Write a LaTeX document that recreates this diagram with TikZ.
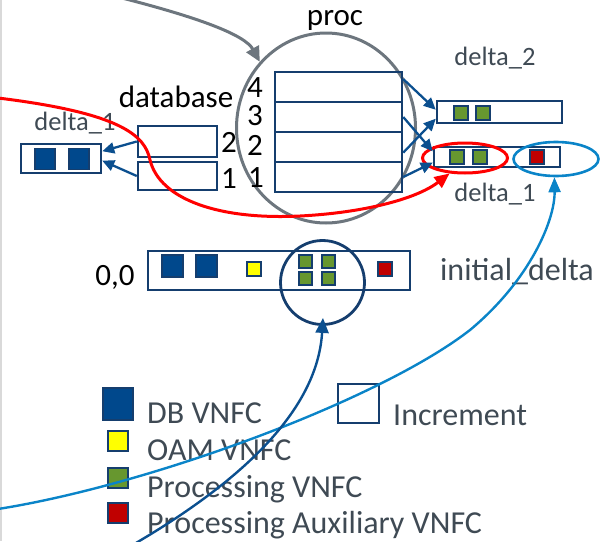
\documentclass[tikz,border=0pt]{standalone}
\usepackage{fontspec}
\setmainfont{Carlito}
\usetikzlibrary{arrows.meta,shapes.geometric}
\definecolor{navy}{HTML}{153E6E}
\definecolor{dbblue}{HTML}{00488C}
\definecolor{procgreen}{HTML}{67972F}
\definecolor{auxred}{HTML}{C00000}
\definecolor{oamyellow}{HTML}{FFFF00}
\definecolor{linkblue}{HTML}{0B4F8F}
\definecolor{skyblue}{HTML}{0A84C8}
\definecolor{ringgray}{HTML}{6D767E}
\definecolor{textgray}{HTML}{3F4A54}
\definecolor{edgegray}{HTML}{D9D9D9}
\newcommand\bigtxt{\fontsize{31}{37}\selectfont}
\newcommand\keytxt{\fontsize{32}{38}\selectfont}
\newcommand\midtxt{\fontsize{26.5}{32}\selectfont}
\begin{document}
\begin{tikzpicture}[x=1pt,y=-1pt,
  box/.style={draw=navy,line width=2.5pt,inner sep=0pt},
  unit/.style={draw=navy,line width=1.4pt,inner sep=0pt},
  dbsq/.style={unit,fill=dbblue,minimum width=21pt,minimum height=22pt},
  pgsq/.style={unit,fill=procgreen,minimum width=14pt,minimum height=14pt},
  oasq/.style={unit,fill=oamyellow,minimum width=14pt,minimum height=14pt},
  axsq/.style={unit,fill=auxred,minimum width=14pt,minimum height=14pt},
  lbl/.style={inner sep=0pt,anchor=base,font=\bigtxt},
  dlbl/.style={inner sep=0pt,anchor=base,font=\midtxt,text=textgray},
  legend/.style={inner sep=0pt,anchor=base west,font=\keytxt,text=textgray},
  link/.style={draw=linkblue,line width=2.3pt,-{Triangle[length=12pt,width=11pt]}},
]
\useasboundingbox (0,0) rectangle (602,541);
\draw[edgegray,line width=2pt] (1,0) -- (1,541);

% processing ring and its four slots
\node[draw=ringgray,line width=3pt,ellipse,inner sep=0pt,
      minimum width=179pt,minimum height=190pt] (ring) at (326,128) {};
\foreach \i/\y in {4/87,3/117,2/147,1/177}
  \node[box,minimum width=127pt,minimum height=30pt] (p\i) at (338.5,\y) {};
\node[lbl] (proclbl) at (335,25) {proc};
\node[lbl] (n4) at (255,97) {4};
\node[lbl] (n3) at (255,125) {3};
\node[lbl] (n2) at (255,155) {2};
\node[lbl] (n1) at (256,187) {1};

% database slots
\node[box,minimum width=79pt,minimum height=31pt] (db2) at (177.5,141.5) {};
\node[box,minimum width=79pt,minimum height=28pt] (db1) at (177.5,176) {};
\node[lbl] (dblbl) at (176,107) {database};
\node[lbl] (m2) at (229,152) {2};
\node[lbl] (m1) at (229,188) {1};

% delta_1 on the database side
\node[box,minimum width=80pt,minimum height=29pt] (ld) at (61,158.5) {};
\node[dbsq,minimum width=20pt,minimum height=21pt] (ld1) at (45,159) {};
\node[dbsq,minimum width=20pt,minimum height=21pt] (ld2) at (79,159) {};
\node[dlbl] (ldlbl) at (75,130) {delta\_1};

% delta_2 on the processing side
\node[box,minimum width=125pt,minimum height=22pt] (d2) at (499.5,112) {};
\node[pgsq] (d2a) at (461,113) {};
\node[pgsq] (d2b) at (483,113) {};
\node[dlbl] (d2lbl) at (495,65) {delta\_2};

% delta_1 on the processing side
\node[box,minimum width=126pt,minimum height=20pt] (rd) at (497,157) {};
\node[pgsq] (rda) at (457,157) {};
\node[pgsq] (rdb) at (480,157) {};
\node[axsq] (rdc) at (537,157) {};
\node[dlbl] (rdlbl) at (495,201) {delta\_1};
\node[draw=red,line width=3pt,ellipse,inner sep=0pt,
      minimum width=85pt,minimum height=30pt] (redring) at (465,158) {};
\node[draw=skyblue,line width=2.6pt,ellipse,inner sep=0pt,
      minimum width=85pt,minimum height=34pt] (bluering) at (556,159) {};

% initial delta
\node[box,minimum width=262pt,minimum height=39pt] (init) at (279,270.5) {};
\node[dbsq] (i1) at (172.5,266) {};
\node[dbsq] (i2) at (206.5,266) {};
\node[oasq] (i3) at (254,269) {};
\node[pgsq,minimum width=13pt,minimum height=13pt] (i4) at (305.5,261.5) {};
\node[pgsq,minimum width=13pt,minimum height=13pt] (i5) at (328.5,261.5) {};
\node[pgsq,minimum width=13pt,minimum height=13pt] (i6) at (305.5,278.5) {};
\node[pgsq,minimum width=13pt,minimum height=13pt] (i7) at (328.5,278.5) {};
\node[axsq] (i8) at (385,269) {};
\node[draw=navy,line width=2.8pt,circle,inner sep=0pt,minimum size=84pt] (initring) at (322.5,282.5) {};
\node[lbl] (origin) at (115,285) {0,0};
\node[dlbl,font=\keytxt] (initlbl) at (517,280) {initial\_delta};

% legend
\node[dbsq,minimum width=30pt,minimum height=32pt] (k1) at (118,404) {};
\node[oasq,minimum width=20pt,minimum height=20pt] (k2) at (118,441) {};
\node[pgsq,minimum width=20pt,minimum height=20pt] (k3) at (118,478) {};
\node[axsq,minimum width=20pt,minimum height=20pt] (k4) at (118,513) {};
\node[box,minimum width=41pt,minimum height=39pt] (k5) at (358.5,403.5) {};
\node[legend] (t1) at (147,423) {DB VNFC};
\node[legend] (t2) at (147,460) {OAM VNFC};
\node[legend] (t3) at (147,497) {Processing VNFC};
\node[legend] (t4) at (147,533) {Processing Auxiliary VNFC};
\node[legend] (t5) at (393,425) {Increment};

% connectors
\draw[link] (db2.west) -- (ld.10);
\draw[link] (db1.west) -- (ld.-3);
\draw[link] (p4.7) -- (d2.178);
\draw[link] (p3.east) -- (rd.175);
\draw[link] (p2.-5) -- (d2.186);
\draw[link] (p1.east) -- (rd.185);

\coordinate (graystart) at (122,-2);
\draw[ringgray,line width=3pt,-{Triangle[length=15pt,width=14pt]}]
  (graystart) .. controls (200,18) and (245,35) .. (ring.135);

\coordinate (redstart) at (-2,98);
\draw[red,line width=3pt,-{Triangle[length=15pt,width=13pt]}]
  (redstart) .. controls (120,113) and (145,135) .. (150,160)
  .. controls (160,200) and (220,220) .. (300,216)
  .. controls (360,213) and (415,200) .. (redring.225);

\coordinate (skystart) at (-2,509);
\draw[skyblue,line width=2.4pt,-{Triangle[length=15pt,width=12pt]}]
  (skystart) .. controls (150,485) and (380,400) .. (470,330)
  .. controls (530,280) and (555,220) .. (bluering.265);

\coordinate (navystart) at (136,543);
\draw[linkblue,line width=2.4pt,shorten >=-8pt,-{Triangle[length=15pt,width=13pt]}]
  (navystart) .. controls (260,470) and (318,400) .. (initring.south);
\end{tikzpicture}
\end{document}
